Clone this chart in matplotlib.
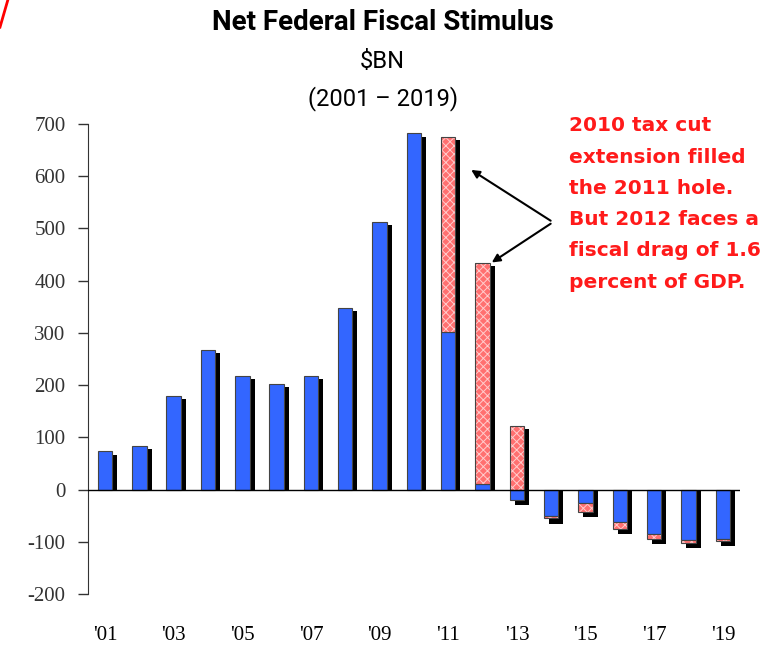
import numpy as np
import matplotlib
matplotlib.use("Agg")
import matplotlib.pyplot as plt
from matplotlib.transforms import offset_copy

# Data ($BN)
years = np.arange(2001, 2020)
baseline = [73, 83, 180, 268, 218, 202, 218, 348, 512, 682, 302, 10, -20,
            -50, -25, -62, -85, -96, -95]
tax_cut = [0, 0, 0, 0, 0, 0, 0, 0, 0, 0, 373, 424, 122,
           -5, -18, -13, -9, -6, -4]
tick_years = years[::2]
tick_labels = ["'%02d" % (y % 100) for y in tick_years]

plt.rcParams["axes.unicode_minus"] = False
plt.rcParams["hatch.linewidth"] = 0.7
title_font = "Roboto"
serif = "Liberation Serif"

fig = plt.figure(figsize=(7.84, 6.46), dpi=100)
ax = fig.add_axes([0.112, 0.0805, 0.832, 0.7275])

width = 0.42
base = np.array(baseline, dtype=float)
red = np.array(tax_cut, dtype=float)
# red segment stacks on the blue one only when both have the same sign
red_bottom = np.where(base * red > 0, base, 0)
pos = np.where(base > 0, base, 0) + np.where(red > 0, red, 0)
neg = np.where(base < 0, base, 0) + np.where(red < 0, red, 0)

# drop shadows (shifted right, a bit lower)
shadow_top = np.where(pos > 0, pos - 6, 0)
shadow_bot = np.where(neg < 0, neg - 10, 0)
shadow_tr = offset_copy(ax.transData, fig=fig, x=5, y=0, units="dots")
ax.bar(years, shadow_top - shadow_bot, bottom=shadow_bot, width=width,
       color="black", transform=shadow_tr, zorder=1)

# baseline bars
ax.bar(years, base, width=width, color="#3366ff", edgecolor="#444444",
       linewidth=0.8, zorder=2)
# tax-cut extension bars (pink with white stipple)
mask = red != 0
ax.bar(years[mask], red[mask], width=width, bottom=red_bottom[mask],
       color="#ff7070", edgecolor="#ffcccc", hatch="xxxx", linewidth=0,
       zorder=2)
ax.bar(years[mask], red[mask], width=width, bottom=red_bottom[mask],
       fill=False, edgecolor="#444444", linewidth=0.8, zorder=3)

ax.axhline(0, color="black", linewidth=1, zorder=4)

ax.set_xlim(2000.5, 2019.5)
ax.set_ylim(-200, 700)
ax.set_yticks(np.arange(-200, 701, 100))
ax.set_xticks(tick_years)
ax.set_xticklabels(tick_labels)
for s in ["top", "right", "bottom"]:
    ax.spines[s].set_visible(False)
ax.spines["left"].set_color("#333333")
ax.tick_params(axis="y", direction="out", length=7, width=1, pad=9,
               labelsize=15, colors="#333333")
ax.tick_params(axis="x", length=0, pad=23, labelsize=15)
for lab in ax.get_yticklabels() + ax.get_xticklabels():
    lab.set_family(serif)

fig.text(0.488, 0.965, "Net Federal Fiscal Stimulus", ha="center", va="center",
         fontsize=20, fontweight="bold", family=title_font)
fig.text(0.488, 0.905, "$BN", ha="center", va="center", fontsize=17,
         family=title_font)
fig.text(0.488, 0.848, "(2001 \u2013 2019)", ha="center", va="center",
         fontsize=17, family=title_font)

note = ("2010 tax cut\nextension filled\nthe 2011 hole.\n"
        "But 2012 faces a\nfiscal drag of 1.6\npercent of GDP.")
fig.text(0.726, 0.82, note, ha="left", va="top", color="#ff1a1a",
         fontsize=14.5, fontweight="bold", linespacing=1.82,
         family="DejaVu Sans")

for tx, ty in [(2011.6, 615), (2012.2, 432)]:
    ax.annotate("", xy=(tx, ty), xytext=(2014.05, 512),
                arrowprops=dict(arrowstyle="-|>", color="black", lw=1.5,
                                mutation_scale=12))

fig.add_artist(plt.Line2D([0.0, 0.01], [0.958, 1.0], color="red", lw=2,
                          transform=fig.transFigure))

fig.savefig("out.png", dpi=100)
